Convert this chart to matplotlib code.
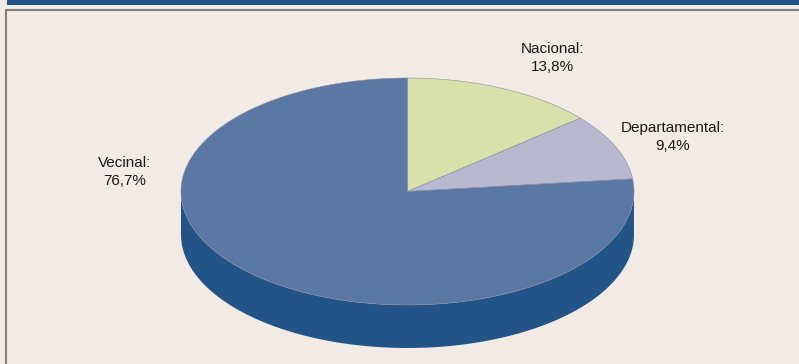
import matplotlib
matplotlib.use('Agg')
import matplotlib.pyplot as plt
from matplotlib.patches import Polygon, Rectangle
import numpy as np

# Share of road network by type (%)
categories = ['Nacional', 'Departamental', 'Vecinal']
shares = [13.8, 9.4, 76.7]
value_labels = ['13,8%', '9,4%', '76,7%']

top_colors = ['#D9E1AA', '#B8B8D1', '#5B77A4']
side_colors = ['#AEB77E', '#8C8CAA', '#235488']
bg_color = '#F2EBE5'
bar_color = '#23558A'

# pie geometry in pixels
cx, cy = 407.5, 191.5
rx, ry = 226.5, 113.5
depth = 43


def ellipse_pts(a0, a1, dy=0.0, n=200):
    # angles in degrees, clockwise from 12 o'clock
    t = np.radians(np.linspace(a0, a1, n))
    return np.column_stack([cx + rx * np.sin(t), cy - ry * np.cos(t) + dy])


fig = plt.figure(figsize=(7.99, 3.64), dpi=100)
fig.patch.set_facecolor(bg_color)
ax = fig.add_axes([0, 0, 1, 1])
ax.set_xlim(0, 799)
ax.set_ylim(364, 0)
ax.axis('off')

# header bar and frame
ax.add_patch(Rectangle((7, -2), 800, 6.5, facecolor=bar_color, edgecolor='none'))
ax.add_patch(Rectangle((6, 10), 800, 400, facecolor=bg_color,
                       edgecolor='#808080', linewidth=1.5))

total = sum(shares)
starts = np.cumsum([0] + shares[:-1]) / total * 360
ends = np.cumsum(shares) / total * 360

# sides (only the front half, 90..270 deg, is visible)
for a0, a1, col in zip(starts, ends, side_colors):
    s0, s1 = max(a0, 90), min(a1, 270)
    if s1 <= s0:
        continue
    top = ellipse_pts(s0, s1)
    bot = ellipse_pts(s1, s0, dy=depth)
    ax.add_patch(Polygon(np.vstack([top, bot]), closed=True,
                         facecolor=col, edgecolor='none', zorder=2))

# top faces
for a0, a1, col in zip(starts, ends, top_colors):
    pts = np.vstack([[cx, cy], ellipse_pts(a0, a1)])
    ax.add_patch(Polygon(pts, closed=True, facecolor=col,
                         edgecolor='#8A8FA0', linewidth=0.4, zorder=3))

label_pos = [(552, 58), (673, 137), (125, 172)]
for name, val, (x, y) in zip(categories, value_labels, label_pos):
    ax.text(x, y, f'{name}:\n{val}', ha='center', va='center',
            fontsize=11, family='Liberation Sans', color='#1A1A1A',
            linespacing=1.45, zorder=5)

fig.savefig('out.png', dpi=100, facecolor=bg_color)
